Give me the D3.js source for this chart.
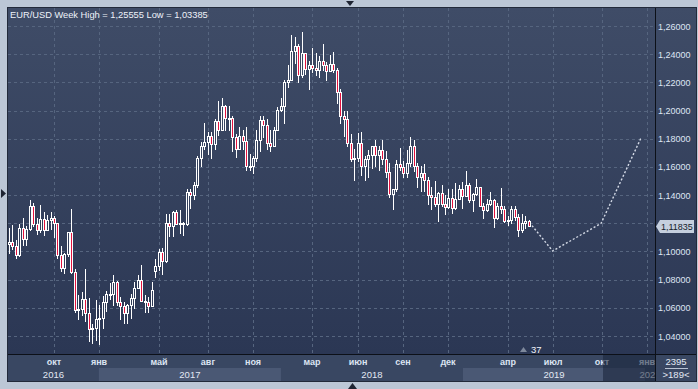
<!DOCTYPE html>
<html>
<head>
<meta charset="utf-8">
<script src="https://cdn.jsdelivr.net/npm/d3@7"></script>
<style>
  html, body { margin: 0; padding: 0; background: #bcc7d6; }
  svg { display: block; font-family: "Liberation Sans", Arial, sans-serif; }
</style>
</head>
<body>
<svg id="chart" width="698" height="389"></svg>
<script>
// EUR/USD weekly candles, Jul 2016 – May 2019 (one value per Monday-week)
var FIRST_WEEK = "2016-07-04", LAST_WEEK = "2019-05-13";

var OPEN = [
  // 2016
  1.1050, 1.1065, 1.1040, 1.0975, 1.1170, 1.1087, 1.1160, 1.1325, 1.1198, 1.1155, 1.1233, 1.1155, 1.1225,
  1.1240, 1.1200, 1.0972, 1.0885, 1.0985, 1.1140, 1.0855, 1.0585, 1.0590, 1.0665, 1.0560, 1.0450, 1.0455,
  // 2017
  1.0520, 1.0530, 1.0640, 1.0700, 1.0695, 1.0785, 1.0640, 1.0615, 1.0560, 1.0620, 1.0670, 1.0740, 1.0800,
  1.0650, 1.0640, 1.0615, 1.0860, 1.0895, 1.0998, 1.0930, 1.1205, 1.1180, 1.1280, 1.1195, 1.1200, 1.1195,
  1.1425, 1.1400, 1.1470, 1.1665, 1.1750, 1.1775, 1.1820, 1.1760, 1.1925, 1.1860, 1.2035, 1.1945, 1.1950,
  1.1815, 1.1730, 1.1820, 1.1785, 1.1610, 1.1605, 1.1665, 1.1790, 1.1930, 1.1895, 1.1770, 1.1750, 1.1865,
  // 2018
  1.2005, 1.2030, 1.2200, 1.2220, 1.2425, 1.2460, 1.2250, 1.2405, 1.2295, 1.2320, 1.2305, 1.2290, 1.2350,
  1.2320, 1.2280, 1.2330, 1.2290, 1.2130, 1.1960, 1.1940, 1.1770, 1.1655, 1.1660, 1.1770, 1.1610, 1.1655,
  1.1685, 1.1745, 1.1685, 1.1720, 1.1655, 1.1565, 1.1410, 1.1440, 1.1620, 1.1600, 1.1555, 1.1625, 1.1750,
  1.1605, 1.1525, 1.1560, 1.1510, 1.1400, 1.1385, 1.1335, 1.1415, 1.1340, 1.1315, 1.1380, 1.1305, 1.1370,
  1.1440,
  // 2019
  1.1395, 1.1470, 1.1365, 1.1405, 1.1455, 1.1325, 1.1295, 1.1335, 1.1365, 1.1235, 1.1325, 1.1300, 1.1215,
  1.1220, 1.1300, 1.1245, 1.1150, 1.1200, 1.1215
];
var HIGH = [
  1.1170, 1.1185, 1.1080, 1.1198, 1.1234, 1.1180, 1.1366, 1.1345, 1.1240, 1.1327, 1.1283, 1.1258, 1.1283,
  1.1250, 1.1205, 1.1040, 1.0990, 1.1140, 1.1300, 1.0875, 1.0690, 1.0710, 1.0875, 1.0670, 1.0485, 1.0655,
  1.0620, 1.0685, 1.0720, 1.0775, 1.0830, 1.0790, 1.0680, 1.0640, 1.0630, 1.0700, 1.0780, 1.0830, 1.0905,
  1.0690, 1.0680, 1.0780, 1.0950, 1.1020, 1.1025, 1.1265, 1.1268, 1.1285, 1.1295, 1.1295, 1.1210, 1.1445,
  1.1445, 1.1490, 1.1680, 1.1775, 1.1910, 1.1845, 1.1850, 1.1940, 1.2070, 1.2090, 1.2040, 1.2035, 1.1960,
  1.1830, 1.1880, 1.1860, 1.1880, 1.1690, 1.1675, 1.1860, 1.1960, 1.1960, 1.1940, 1.1860, 1.1880, 1.2025,
  1.2090, 1.2220, 1.2325, 1.2535, 1.2520, 1.2475, 1.2555, 1.2410, 1.2355, 1.2445, 1.2410, 1.2390, 1.2475,
  1.2345, 1.2395, 1.2415, 1.2300, 1.2150, 1.1995, 1.1995, 1.1830, 1.1730, 1.1840, 1.1850, 1.1675, 1.1720,
  1.1750, 1.1790, 1.1745, 1.1790, 1.1710, 1.1630, 1.1445, 1.1650, 1.1735, 1.1640, 1.1720, 1.1815, 1.1790,
  1.1625, 1.1610, 1.1620, 1.1530, 1.1455, 1.1500, 1.1420, 1.1470, 1.1400, 1.1440, 1.1440, 1.1485, 1.1475,
  1.1495,
  1.1570, 1.1485, 1.1415, 1.1515, 1.1460, 1.1345, 1.1370, 1.1420, 1.1375, 1.1345, 1.1450, 1.1325, 1.1255,
  1.1325, 1.1325, 1.1265, 1.1265, 1.1255, 1.1225
];
var LOW = [
  1.0990, 1.1020, 1.0952, 1.0965, 1.1045, 1.1045, 1.1155, 1.1180, 1.1123, 1.1140, 1.1120, 1.1150, 1.1160,
  1.1100, 1.0952, 1.0860, 1.0850, 1.0970, 1.0850, 1.0570, 1.0518, 1.0552, 1.0505, 1.0366, 1.0352, 1.0375,
  1.0340, 1.0455, 1.0580, 1.0660, 1.0620, 1.0620, 1.0520, 1.0495, 1.0495, 1.0525, 1.0600, 1.0740, 1.0650,
  1.0570, 1.0570, 1.0610, 1.0820, 1.0870, 1.0840, 1.0925, 1.1110, 1.1110, 1.1195, 1.1130, 1.1120, 1.1185,
  1.1310, 1.1370, 1.1455, 1.1610, 1.1730, 1.1690, 1.1660, 1.1730, 1.1825, 1.1860, 1.1860, 1.1860, 1.1715,
  1.1670, 1.1730, 1.1730, 1.1575, 1.1575, 1.1555, 1.1645, 1.1715, 1.1810, 1.1730, 1.1715, 1.1750, 1.1860,
  1.1995, 1.1915, 1.2165, 1.2215, 1.2335, 1.2205, 1.2235, 1.2260, 1.2155, 1.2275, 1.2255, 1.2240, 1.2285,
  1.2215, 1.2280, 1.2270, 1.2055, 1.1910, 1.1820, 1.1750, 1.1645, 1.1510, 1.1645, 1.1540, 1.1510, 1.1525,
  1.1590, 1.1610, 1.1575, 1.1620, 1.1530, 1.1385, 1.1300, 1.1430, 1.1580, 1.1525, 1.1530, 1.1610, 1.1570,
  1.1460, 1.1430, 1.1430, 1.1335, 1.1300, 1.1325, 1.1215, 1.1320, 1.1265, 1.1310, 1.1270, 1.1300, 1.1370,
  1.1310,
  1.1395, 1.1350, 1.1290, 1.1400, 1.1325, 1.1235, 1.1290, 1.1330, 1.1175, 1.1230, 1.1270, 1.1210, 1.1185,
  1.1200, 1.1225, 1.1110, 1.1135, 1.1170, 1.1180
];
var CLOSE = [
  1.1065, 1.1040, 1.0975, 1.1170, 1.1087, 1.1160, 1.1325, 1.1198, 1.1155, 1.1233, 1.1155, 1.1225, 1.1240,
  1.1200, 1.0972, 1.0885, 1.0985, 1.1140, 1.0855, 1.0585, 1.0590, 1.0665, 1.0560, 1.0450, 1.0455, 1.0520,
  1.0530, 1.0640, 1.0700, 1.0695, 1.0785, 1.0640, 1.0615, 1.0560, 1.0620, 1.0670, 1.0740, 1.0800, 1.0650,
  1.0640, 1.0615, 1.0725, 1.0895, 1.0998, 1.0930, 1.1205, 1.1180, 1.1280, 1.1195, 1.1200, 1.1195, 1.1425,
  1.1400, 1.1470, 1.1665, 1.1750, 1.1775, 1.1820, 1.1760, 1.1925, 1.1860, 1.2035, 1.1945, 1.1950, 1.1815,
  1.1730, 1.1820, 1.1785, 1.1610, 1.1605, 1.1665, 1.1790, 1.1930, 1.1895, 1.1770, 1.1750, 1.1865, 1.2005,
  1.2030, 1.2200, 1.2220, 1.2425, 1.2460, 1.2250, 1.2405, 1.2295, 1.2320, 1.2305, 1.2290, 1.2350, 1.2320,
  1.2280, 1.2330, 1.2290, 1.2130, 1.1960, 1.1940, 1.1770, 1.1655, 1.1660, 1.1770, 1.1610, 1.1655, 1.1685,
  1.1745, 1.1685, 1.1720, 1.1655, 1.1565, 1.1410, 1.1440, 1.1620, 1.1600, 1.1555, 1.1625, 1.1750, 1.1605,
  1.1525, 1.1560, 1.1510, 1.1400, 1.1385, 1.1335, 1.1415, 1.1340, 1.1315, 1.1380, 1.1305, 1.1370, 1.1440,
  1.1395,
  1.1470, 1.1365, 1.1405, 1.1455, 1.1325, 1.1295, 1.1335, 1.1365, 1.1235, 1.1325, 1.1300, 1.1215, 1.1220,
  1.1300, 1.1245, 1.1150, 1.1200, 1.1215, 1.11835
];

// dotted projection after the last candle
var FORECAST_DATES  = ["2019-05-13", "2019-06-30", "2019-10-05", "2019-12-24"];
var FORECAST_VALUES = [1.11835, 1.1003, 1.1200, 1.1805];

var Y_TICKS = [1.04, 1.06, 1.08, 1.10, 1.12, 1.14, 1.16, 1.18, 1.20, 1.22, 1.24, 1.26];
var MONTH_TICKS = ["2016-10-01", "2017-01-01", "2017-05-01", "2017-08-01", "2017-11-01", "2018-03-01",
                   "2018-06-01", "2018-09-01", "2018-12-01", "2019-04-01", "2019-07-01", "2019-10-01", "2020-01-01"];
var MONTH_LABELS = ["окт", "янв", "май", "авг", "ноя", "мар", "июн", "сен", "дек", "апр", "июл", "окт", "янв"];
var YEARS = [2016, 2017, 2018, 2019, 2020];

var TITLE = "EUR/USD Week High = 1,25555 Low = 1,03385";
var LAST_PRICE = 1.11835;
var fmt = function (v) { return d3.format(".5f")(v).replace(".", ","); };

(function () {
  "use strict";
  var W = 698, H = 389;
  var L = 8, T = 8, R = 655, B = 354, AX = 381, RR = 696;
  var parse = d3.timeParse("%Y-%m-%d");

  var weeks = d3.timeMonday.range(parse(FIRST_WEEK), d3.timeDay.offset(parse(LAST_WEEK), 1));
  var candles = weeks.map(function (d, i) {
    return { date: d, o: OPEN[i], h: HIGH[i], l: LOW[i], c: CLOSE[i] };
  });

  var x = d3.scaleTime().domain([parse("2016-10-01"), parse("2020-01-01")]).range([53, 645]);
  var y = d3.scaleLinear().domain([1.04, 1.26]).range([336, 26]);

  var svg = d3.select("#chart");
  var defs = svg.append("defs");
  var grad = defs.append("linearGradient").attr("id", "bg")
    .attr("gradientUnits", "userSpaceOnUse").attr("x1", 0).attr("y1", T).attr("x2", 0).attr("y2", B);
  grad.append("stop").attr("offset", 0).attr("stop-color", "#3f4c67");
  grad.append("stop").attr("offset", 1).attr("stop-color", "#2b3754");
  defs.append("clipPath").attr("id", "plotClip").append("rect")
    .attr("x", L).attr("y", T).attr("width", R - L).attr("height", B - T);
  defs.append("clipPath").attr("id", "axClip").append("rect")
    .attr("x", L).attr("y", B).attr("width", R - L).attr("height", AX - B);

  // frame + panels
  svg.append("rect").attr("width", W).attr("height", H).attr("fill", "#bcc7d6");
  svg.append("rect").attr("x", L).attr("y", T).attr("width", RR - L).attr("height", B - T).attr("fill", "url(#bg)");
  svg.append("rect").attr("x", L).attr("y", B).attr("width", RR - L).attr("height", AX - B).attr("fill", "#394762");

  // grid
  var grid = svg.append("g").attr("clip-path", "url(#plotClip)")
    .attr("stroke", "#56657f").attr("stroke-width", 1).attr("stroke-dasharray", "3,3");
  grid.selectAll("line.h").data(Y_TICKS).join("line").attr("class", "h")
    .attr("x1", L).attr("x2", R)
    .attr("y1", function (d) { return Math.round(y(d)) + 0.5; })
    .attr("y2", function (d) { return Math.round(y(d)) + 0.5; });
  var monthX = MONTH_TICKS.map(function (s) { return Math.round(x(d3.timeMonday.ceil(parse(s)))); });
  grid.selectAll("line.v").data(monthX).join("line").attr("class", "v")
    .attr("y1", T).attr("y2", B)
    .attr("x1", function (d) { return d + 0.5; }).attr("x2", function (d) { return d + 0.5; });

  // candles
  var cg = svg.append("g").attr("clip-path", "url(#plotClip)");
  var cand = cg.selectAll("g.c").data(candles).join("g").attr("class", "c");
  cand.append("line")
    .attr("x1", function (d) { return Math.round(x(d.date)) + 0.5; })
    .attr("x2", function (d) { return Math.round(x(d.date)) + 0.5; })
    .attr("y1", function (d) { return Math.round(y(d.h)); })
    .attr("y2", function (d) { return Math.round(y(d.l)) + 1; })
    .attr("stroke", "#ffffff").attr("stroke-width", 1);
  cand.each(function (d) {
    var g = d3.select(this), cx = Math.round(x(d.date));
    var top = Math.round(y(Math.max(d.o, d.c))), bot = Math.round(y(Math.min(d.o, d.c)));
    if (bot - top < 1) bot = top + 1;
    g.append("rect").attr("x", cx - 1).attr("y", top).attr("width", 3).attr("height", bot - top + 1).attr("fill", "#ffffff");
    if (bot - top > 1) {
      g.append("rect").attr("x", cx).attr("y", top + 1).attr("width", 1).attr("height", bot - top - 1)
        .attr("fill", d.c < d.o ? "#e3123e" : "url(#bg)");
    }
  });

  // projection
  var fc = FORECAST_DATES.map(function (s, i) { return [x(parse(s)), y(FORECAST_VALUES[i])]; });
  fc[0][0] = Math.round(x(weeks[weeks.length - 1])) + 3;
  svg.append("path").attr("clip-path", "url(#plotClip)")
    .attr("d", d3.line()(fc)).attr("fill", "none")
    .attr("stroke", "#d4dae6").attr("stroke-width", 1.4).attr("stroke-dasharray", "2,2");

  // title
  svg.append("text").attr("x", 10).attr("y", 18).attr("font-size", "9.3px").attr("fill", "#eef2fa").text(TITLE);

  // right axis labels (the one under the last-price tag is covered, as in the terminal)
  var py = Math.round(y(LAST_PRICE)) + 0.5;
  svg.append("g").selectAll("text").data(Y_TICKS.filter(function (d) { return Math.abs(y(d) - py) > 9; })).join("text")
    .attr("x", 658).attr("y", function (d) { return y(d) + 3.5; })
    .attr("font-size", "9px").attr("fill", "#dfe6f4")
    .text(fmt);

  // last price tag
  svg.append("path")
    .attr("d", "M656," + py + "L660," + (py - 6.5) + "L694," + (py - 6.5) + "L694," + (py + 6.5) + "L660," + (py + 6.5) + "Z")
    .attr("fill", "#c5cfde");
  svg.append("text").attr("x", 661).attr("y", py + 3.5).attr("font-size", "9px").attr("fill", "#141c2b").text(fmt(LAST_PRICE));

  // bottom time axis
  var ax = svg.append("g").attr("clip-path", "url(#axClip)");
  YEARS.forEach(function (yr, i) {
    var x0 = Math.max(L, x(new Date(yr, 0, 1))), x1 = Math.min(R, x(new Date(yr + 1, 0, 1)));
    if (x1 <= x0) return;
    if (i % 2 === 1) ax.append("rect").attr("x", x0).attr("y", 368).attr("width", x1 - x0).attr("height", AX - 368).attr("fill", "#4a5874");
    ax.append("text").attr("x", (x0 + x1) / 2).attr("y", 378).attr("text-anchor", "middle")
      .attr("font-size", "9.5px").attr("fill", "#e3e9f4").text(yr);
  });
  ax.selectAll("text.m").data(MONTH_LABELS).join("text").attr("class", "m")
    .attr("x", function (d, i) { return monthX[i]; }).attr("y", 365).attr("text-anchor", "middle")
    .attr("font-size", "9px").attr("font-weight", "bold").attr("fill", "#dce4f2").text(function (d) { return d; });
  ax.append("rect").attr("x", 603).attr("y", B).attr("width", R - 603).attr("height", AX - B).attr("fill", "rgba(24,34,56,0.55)");

  // bar counter under the plot
  svg.append("path").attr("d", "M520,352L527,352L523.5,347Z").attr("fill", "#7e899c");
  svg.append("text").attr("x", 531).attr("y", 353).attr("font-size", "9.5px").attr("fill", "#f2f5fa").text("37");

  // bottom-right box
  svg.append("text").attr("x", 676).attr("y", 365).attr("text-anchor", "middle").attr("font-size", "9.5px").attr("fill", "#e3e9f4").text("2395");
  svg.append("line").attr("x1", 665).attr("x2", 688).attr("y1", 368.5).attr("y2", 368.5).attr("stroke", "#b9c3d3");
  svg.append("text").attr("x", 676).attr("y", 378).attr("text-anchor", "middle").attr("font-size", "9.5px").attr("fill", "#e3e9f4").text(">189<");

  // separators and outer edge
  svg.append("line").attr("x1", R + 0.5).attr("x2", R + 0.5).attr("y1", T).attr("y2", AX).attr("stroke", "#0c1018");
  svg.append("line").attr("x1", L).attr("x2", RR).attr("y1", B + 0.5).attr("y2", B + 0.5).attr("stroke", "#0c1018");
  svg.append("rect").attr("x", L - 0.5).attr("y", T - 0.5).attr("width", RR - L + 1).attr("height", AX - T + 1)
    .attr("fill", "none").attr("stroke", "#222a3a");

  // scroll markers on the frame
  svg.append("path").attr("d", "M346,1L354,1L350,6Z").attr("fill", "#1f2533");
  svg.append("path").attr("d", "M1,189L1,198L6,193.5Z").attr("fill", "#1f2533");
  svg.append("path").attr("d", "M348,389L357,389L352.5,383Z").attr("fill", "#1f2533");
})();
</script>
</body>
</html>
